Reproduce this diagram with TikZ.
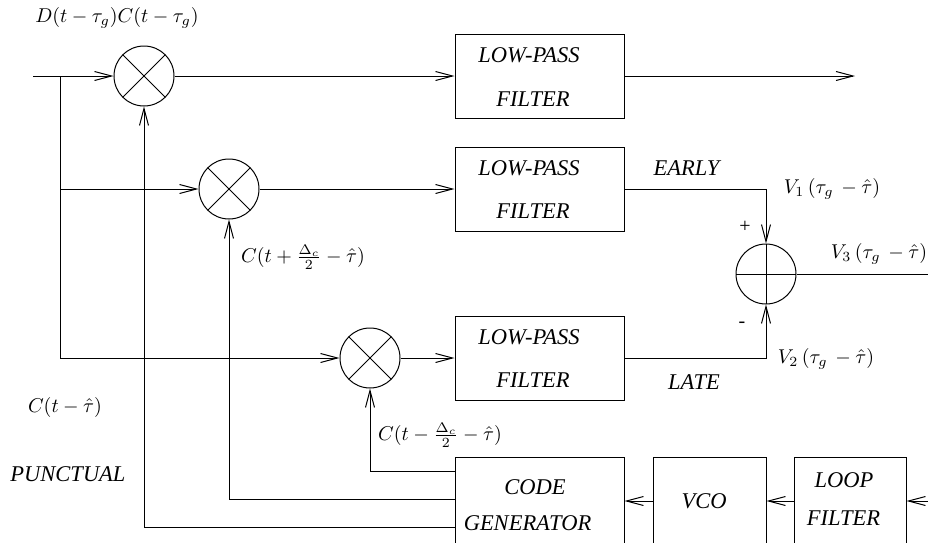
\documentclass[tikz,border=0pt]{standalone}
\usepackage{fontspec}
\setmainfont{Liberation Serif}
\usetikzlibrary{arrows.meta,calc}
\begin{document}
\begin{tikzpicture}[x=0.5pt,y=-0.5pt,line width=0.5pt,
  >={Straight Barb[length=8.5pt,width=4.5pt]},
  mult/.style={circle,draw,minimum size=30pt,inner sep=0pt,
    path picture={\draw (path picture bounding box.north west)--(path picture bounding box.south east)
                        (path picture bounding box.north east)--(path picture bounding box.south west);}},
  summer/.style={circle,draw,minimum size=30pt,inner sep=0pt,
    path picture={\draw (path picture bounding box.north)--(path picture bounding box.south)
                        (path picture bounding box.west)--(path picture bounding box.east);}},
  blk/.style={draw,minimum width=84.5pt,minimum height=42pt,inner sep=0pt},
  lbl/.style={inner sep=0pt,font=\fontsize{11.25}{13}\selectfont\itshape},
  mlbl/.style={inner sep=0pt,font=\fontsize{10}{12}\selectfont}]
\clip (0,0) rectangle (928,542);

% multipliers and summer
\node[mult] (m1) at (144,76) {};
\node[mult] (m2) at (229,189) {};
\node[mult] (m3) at (370,358) {};
\node[summer] (sum) at (766,274) {};

% filter boxes
\node[blk] (lpf1) at (539.5,76) {};
\node[blk] (lpf2) at (539.5,189) {};
\node[blk] (lpf3) at (539.5,358) {};
\node[blk,minimum height=44pt] (cg) at (539.5,501) {};
\node[blk,minimum width=56.5pt,minimum height=44pt] (vco) at (709.5,501) {};
\node[blk,minimum width=56pt,minimum height=44pt] (lf) at (850,501) {};

% texts in boxes
\node[lbl] (t1a) at (529,55) {LOW-PASS};
\node[lbl] (t1b) at (533,99) {FILTER};
\node[lbl] (t2a) at (529,168) {LOW-PASS};
\node[lbl] (t2b) at (533,211) {FILTER};
\node[lbl] (t3a) at (529,337) {LOW-PASS};
\node[lbl] (t3b) at (533,380) {FILTER};
\node[lbl] (tcg1) at (535,487) {CODE};
\node[lbl] (tcg2) at (527.5,523) {GENERATOR};
\node[lbl] (tvco) at (704,501) {VCO};
\node[lbl] (tlf1) at (844,480) {LOOP};
\node[lbl] (tlf2) at (843.5,518) {FILTER};
\node[lbl] (early) at (686.5,168) {EARLY};
\node[lbl] (late) at (694,382) {LATE};
\node[lbl] (punct) at (68,474) {PUNCTUAL};

% math labels
\node[mlbl] (ld) at (117,18) {$D(t-\tau_g)C(t-\tau_g)$};
\node[mlbl] (lv1) at (832,189) {$V_1\,(\tau_g\,-\hat\tau)$};
\node[mlbl] (lv3) at (879,254) {$V_3\,(\tau_g\,-\hat\tau)$};
\node[mlbl] (lv2) at (826,359) {$V_2\,(\tau_g\,-\hat\tau)$};
\node[mlbl] (lplus) at (745,227) {+};
\node[mlbl] (lminus) at (742,325) {-};
\node[mlbl] (lce) at (303,257) {$C(t+\frac{\Delta_c}{2}-\hat\tau)$};
\node[mlbl] (lcl) at (440,435) {$C(t-\frac{\Delta_c}{2}-\hat\tau)$};
\node[mlbl] (lcp) at (65,407) {$C(t-\hat\tau)$};

% coordinates
\coordinate (in1) at (33,76);
\coordinate (j1) at (60,76);
\coordinate (j2) at (60,189);
\coordinate (j3) at (60,358);
\coordinate (out1) at (855,76);
\coordinate (out3) at (930,274);
\coordinate (in4) at (930,501);

% connectors
\draw[->] (in1) -- (m1.west);
\draw (j1) -- (j3);
\draw[->] (j2) -- (m2.west);
\draw[->] (j3) -- (m3.west);
\draw[->] (m1.east) -- (lpf1.west);
\draw[->] (m2.east) -- (lpf2.west);
\draw[->] (m3.east) -- (lpf3.west);
\draw[->] (lpf1.east) -- (out1);
\draw[->] (lpf2.east) -| (sum.north);
\draw[->] (lpf3.east) -| (sum.south);
\draw (sum.east) -- (out3);
\draw[->] ($(cg.north west)+(0,15)$) -| (m3.south);
\draw[->] ($(cg.north west)+(0,43)$) -| (m2.south);
\draw[->] ($(cg.north west)+(0,71)$) -| (m1.south);
\draw[->] (vco.west) -- (cg.east);
\draw[->] (lf.west) -- (vco.east);
\draw[->] (in4) -- (lf.east);
\end{tikzpicture}
\end{document}
